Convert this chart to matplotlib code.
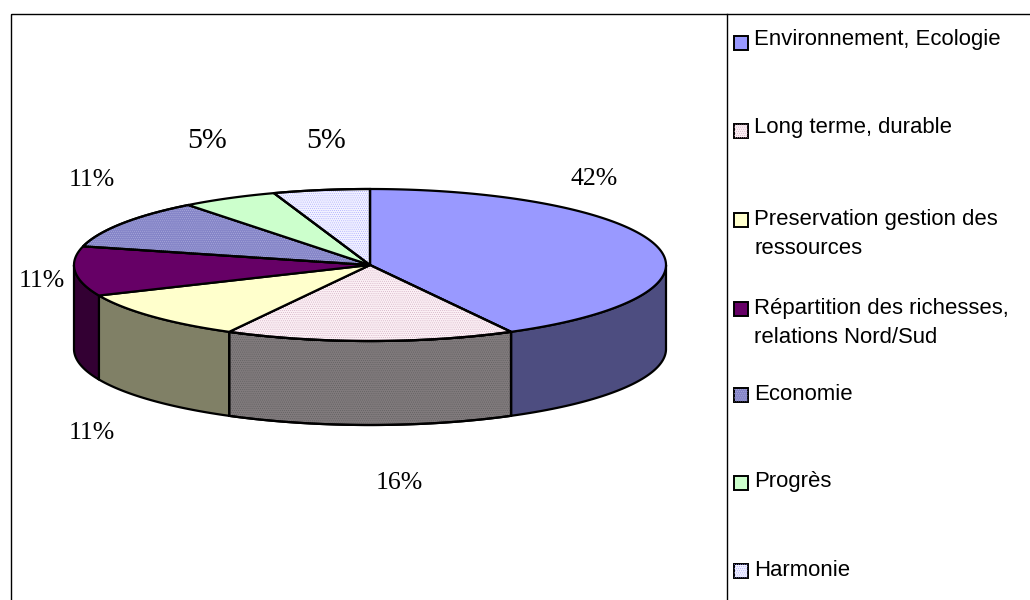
import numpy as np
import matplotlib
matplotlib.use('Agg')
import matplotlib.pyplot as plt
from matplotlib.patches import Polygon, Rectangle

categories = ['Environnement, Ecologie', 'Long terme, durable',
              'Preservation gestion des\nressources',
              'Répartition des richesses,\nrelations Nord/Sud',
              'Economie', 'Progrès', 'Harmonie']
values = [42.1, 15.8, 10.53, 10.53, 10.53, 5.26, 5.26]
top_colors = ['#9999FF', '#FBEFF4', '#FFFFCC', '#660066', '#8585C8', '#CCFFCC', '#F2F2FF']
side_colors = ['#4D4D80', '#807A7C', '#808066', '#330033', '#404060', '#668066', '#7A7A80']
hatch_colors = [None, '#C9A0B8', None, None, '#B5B5E0', None, '#9999FF']
side_hatch = [None, '#5A5A5A', None, None, None, None, None]

# label positions are in pixels of the reference
label_xy = [(594, 179), (399, 483), (92, 433), (42, 281), (92, 180), (207, 141), (326, 141)]
label_size = [18.5, 18.5, 18.5, 18.5, 18.5, 21.5, 21.5]
legend_y = [43, 131, 220, 309, 395, 483, 571]
legend_text_y = [40, 128, 234, 323, 394, 482, 570]

cx, cy, rx, ry, depth = 370, 265, 296, 76, 84

plt.rcParams['hatch.linewidth'] = 0.3

fig = plt.figure(figsize=(10.3, 6), dpi=100)
ax = fig.add_axes([0, 0, 1, 1])
ax.set_xlim(0, 1030)
ax.set_ylim(600, 0)
ax.axis('off')


def rim(a0, a1):
    # angle is clockwise from the top of the pie
    t = np.radians(np.linspace(a0, a1, 200))
    return cx + rx * np.sin(t), cy - ry * np.cos(t)


# frame
ax.add_patch(Rectangle((10.5, 13.5), 1030, 600, fill=False, ec='black', lw=1))
ax.plot([726.5, 726.5], [13.5, 600], color='black', lw=1)

edges = np.cumsum([0] + values) / sum(values) * 360

# side wall, only the front half of the rim is seen
for i in range(len(values)):
    a0 = max(edges[i], 90)
    a1 = min(edges[i + 1], 270)
    if a1 <= a0:
        continue
    x, y = rim(a0, a1)
    pts = np.r_[np.c_[x, y], np.c_[x[::-1], y[::-1] + depth]]
    ax.add_patch(Polygon(pts, closed=True, fc=side_colors[i], ec='black', lw=1.6, joinstyle='round'))
    if side_hatch[i]:
        ax.add_patch(Polygon(pts, closed=True, fill=False, ec=side_hatch[i], hatch='........', lw=0))
        ax.add_patch(Polygon(pts, closed=True, fill=False, ec='black', lw=1.6))

# top face
for i in range(len(values)):
    x, y = rim(edges[i], edges[i + 1])
    pts = np.r_[[[cx, cy]], np.c_[x, y]]
    ax.add_patch(Polygon(pts, closed=True, fc=top_colors[i], ec='black', lw=1.6, joinstyle='round'))
    if hatch_colors[i]:
        ax.add_patch(Polygon(pts, closed=True, fill=False, ec=hatch_colors[i], hatch='........', lw=0))
        ax.add_patch(Polygon(pts, closed=True, fill=False, ec='black', lw=1.6))

for i, v in enumerate(values):
    ax.text(label_xy[i][0], label_xy[i][1], f'{v:.0f}%', ha='center', va='center',
            family='Liberation Serif', fontsize=label_size[i], color='black')

for i, name in enumerate(categories):
    ax.add_patch(Rectangle((733.5, legend_y[i] - 7), 14, 14, fc=top_colors[i], ec='black', lw=1.4))
    if hatch_colors[i]:
        ax.add_patch(Rectangle((733.5, legend_y[i] - 7), 14, 14, fill=False, ec=hatch_colors[i], hatch='........', lw=0))
    ax.text(754, legend_text_y[i], name, ha='left', va='center', family='Liberation Sans',
            fontsize=15.9, color='black', linespacing=1.5)

fig.savefig('out.png', dpi=100)
